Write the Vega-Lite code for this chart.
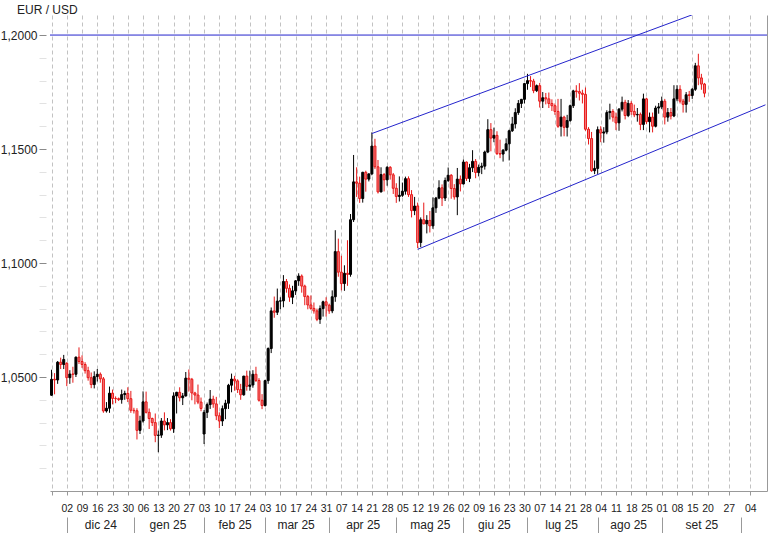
{
  "$schema": "https://vega.github.io/schema/vega-lite/v6.json",
  "width": 717,
  "height": 476,
  "autosize": {"type": "none"},
  "padding": {"left": 50, "top": 15, "right": 11, "bottom": 42},
  "background": "white",
  "config": {"view": {"stroke": null}, "font": "Liberation Sans"},
  "title": {"text": "EUR / USD", "anchor": "start", "frame": "group", "dx": -33, "dy": 5, "offset": 3, "fontSize": 12, "fontWeight": "normal", "color": "#222222"},
  "datasets": {
    "candles": [
      {"d":"2024-11-25","o":1.0420,"h":1.0532,"l":1.0418,"c":1.0490},
      {"d":"2024-11-26","o":1.0490,"h":1.0517,"l":1.0424,"c":1.0487},
      {"d":"2024-11-27","o":1.0487,"h":1.0570,"l":1.0470,"c":1.0565},
      {"d":"2024-11-28","o":1.0565,"h":1.0585,"l":1.0535,"c":1.0555},
      {"d":"2024-11-29","o":1.0555,"h":1.0597,"l":1.0535,"c":1.0577},
      {"d":"2024-12-02","o":1.0560,"h":1.0565,"l":1.0460,"c":1.0497},
      {"d":"2024-12-03","o":1.0497,"h":1.0530,"l":1.0470,"c":1.0513},
      {"d":"2024-12-04","o":1.0513,"h":1.0545,"l":1.0475,"c":1.0512},
      {"d":"2024-12-05","o":1.0512,"h":1.0590,"l":1.0500,"c":1.0587},
      {"d":"2024-12-06","o":1.0587,"h":1.0630,"l":1.0557,"c":1.0568},
      {"d":"2024-12-09","o":1.0568,"h":1.0595,"l":1.0540,"c":1.0555},
      {"d":"2024-12-10","o":1.0555,"h":1.0565,"l":1.0515,"c":1.0528},
      {"d":"2024-12-11","o":1.0528,"h":1.0545,"l":1.0484,"c":1.0497},
      {"d":"2024-12-12","o":1.0497,"h":1.0520,"l":1.0451,"c":1.0467},
      {"d":"2024-12-13","o":1.0467,"h":1.0525,"l":1.0450,"c":1.0502},
      {"d":"2024-12-16","o":1.0502,"h":1.0535,"l":1.0480,"c":1.0512},
      {"d":"2024-12-17","o":1.0512,"h":1.0520,"l":1.0475,"c":1.0492},
      {"d":"2024-12-18","o":1.0492,"h":1.0500,"l":1.0343,"c":1.0351},
      {"d":"2024-12-19","o":1.0351,"h":1.0390,"l":1.0344,"c":1.0363},
      {"d":"2024-12-20","o":1.0363,"h":1.0458,"l":1.0343,"c":1.0429},
      {"d":"2024-12-23","o":1.0429,"h":1.0445,"l":1.0380,"c":1.0406},
      {"d":"2024-12-24","o":1.0406,"h":1.0415,"l":1.0385,"c":1.0405},
      {"d":"2024-12-25","o":1.0405,"h":1.0410,"l":1.0395,"c":1.0401},
      {"d":"2024-12-26","o":1.0401,"h":1.0445,"l":1.0383,"c":1.0423},
      {"d":"2024-12-27","o":1.0423,"h":1.0440,"l":1.0400,"c":1.0428},
      {"d":"2024-12-30","o":1.0428,"h":1.0455,"l":1.0390,"c":1.0405},
      {"d":"2024-12-31","o":1.0405,"h":1.0439,"l":1.0343,"c":1.0354},
      {"d":"2025-01-01","o":1.0354,"h":1.0365,"l":1.0340,"c":1.0352},
      {"d":"2025-01-02","o":1.0352,"h":1.0363,"l":1.0226,"c":1.0266},
      {"d":"2025-01-03","o":1.0266,"h":1.0330,"l":1.0250,"c":1.0307},
      {"d":"2025-01-06","o":1.0307,"h":1.0437,"l":1.0300,"c":1.0391},
      {"d":"2025-01-07","o":1.0391,"h":1.0436,"l":1.0340,"c":1.0345},
      {"d":"2025-01-08","o":1.0345,"h":1.0362,"l":1.0272,"c":1.0318},
      {"d":"2025-01-09","o":1.0318,"h":1.0322,"l":1.0285,"c":1.0300},
      {"d":"2025-01-10","o":1.0300,"h":1.0340,"l":1.0214,"c":1.0244},
      {"d":"2025-01-13","o":1.0244,"h":1.0265,"l":1.0170,"c":1.0245},
      {"d":"2025-01-14","o":1.0245,"h":1.0320,"l":1.0233,"c":1.0307},
      {"d":"2025-01-15","o":1.0307,"h":1.0345,"l":1.0266,"c":1.0290},
      {"d":"2025-01-16","o":1.0290,"h":1.0320,"l":1.0267,"c":1.0300},
      {"d":"2025-01-17","o":1.0300,"h":1.0315,"l":1.0265,"c":1.0273},
      {"d":"2025-01-20","o":1.0273,"h":1.0433,"l":1.0255,"c":1.0417},
      {"d":"2025-01-21","o":1.0417,"h":1.0435,"l":1.0340,"c":1.0433},
      {"d":"2025-01-22","o":1.0433,"h":1.0455,"l":1.0393,"c":1.0409},
      {"d":"2025-01-23","o":1.0409,"h":1.0430,"l":1.0377,"c":1.0417},
      {"d":"2025-01-24","o":1.0417,"h":1.0522,"l":1.0414,"c":1.0495},
      {"d":"2025-01-27","o":1.0495,"h":1.0533,"l":1.0436,"c":1.0490},
      {"d":"2025-01-28","o":1.0490,"h":1.0496,"l":1.0398,"c":1.0430},
      {"d":"2025-01-29","o":1.0430,"h":1.0435,"l":1.0380,"c":1.0421},
      {"d":"2025-01-30","o":1.0421,"h":1.0467,"l":1.0381,"c":1.0390},
      {"d":"2025-01-31","o":1.0390,"h":1.0410,"l":1.0350,"c":1.0362},
      {"d":"2025-02-03","o":1.0250,"h":1.0355,"l":1.0206,"c":1.0345},
      {"d":"2025-02-04","o":1.0345,"h":1.0388,"l":1.0320,"c":1.0379},
      {"d":"2025-02-05","o":1.0379,"h":1.0443,"l":1.0360,"c":1.0403},
      {"d":"2025-02-06","o":1.0403,"h":1.0418,"l":1.0365,"c":1.0382},
      {"d":"2025-02-07","o":1.0382,"h":1.0413,"l":1.0311,"c":1.0330},
      {"d":"2025-02-10","o":1.0330,"h":1.0345,"l":1.0276,"c":1.0307},
      {"d":"2025-02-11","o":1.0307,"h":1.0375,"l":1.0285,"c":1.0361},
      {"d":"2025-02-12","o":1.0361,"h":1.0400,"l":1.0315,"c":1.0385},
      {"d":"2025-02-13","o":1.0385,"h":1.0470,"l":1.0360,"c":1.0464},
      {"d":"2025-02-14","o":1.0464,"h":1.0515,"l":1.0433,"c":1.0491},
      {"d":"2025-02-17","o":1.0491,"h":1.0505,"l":1.0440,"c":1.0483},
      {"d":"2025-02-18","o":1.0483,"h":1.0490,"l":1.0430,"c":1.0445},
      {"d":"2025-02-19","o":1.0445,"h":1.0470,"l":1.0400,"c":1.0422},
      {"d":"2025-02-20","o":1.0422,"h":1.0505,"l":1.0418,"c":1.0504},
      {"d":"2025-02-21","o":1.0504,"h":1.0528,"l":1.0440,"c":1.0459},
      {"d":"2025-02-24","o":1.0459,"h":1.0528,"l":1.0440,"c":1.0465},
      {"d":"2025-02-25","o":1.0465,"h":1.0530,"l":1.0453,"c":1.0512},
      {"d":"2025-02-26","o":1.0512,"h":1.0545,"l":1.0478,"c":1.0485},
      {"d":"2025-02-27","o":1.0485,"h":1.0495,"l":1.0392,"c":1.0398},
      {"d":"2025-02-28","o":1.0398,"h":1.0425,"l":1.0359,"c":1.0375},
      {"d":"2025-03-03","o":1.0375,"h":1.0488,"l":1.0370,"c":1.0484},
      {"d":"2025-03-04","o":1.0484,"h":1.0630,"l":1.0470,"c":1.0625},
      {"d":"2025-03-05","o":1.0625,"h":1.0805,"l":1.0605,"c":1.0790},
      {"d":"2025-03-06","o":1.0790,"h":1.0853,"l":1.0760,"c":1.0784},
      {"d":"2025-03-07","o":1.0784,"h":1.0888,"l":1.0772,"c":1.0833},
      {"d":"2025-03-10","o":1.0833,"h":1.0850,"l":1.0797,"c":1.0834},
      {"d":"2025-03-11","o":1.0834,"h":1.0947,"l":1.0806,"c":1.0919},
      {"d":"2025-03-12","o":1.0919,"h":1.0930,"l":1.0870,"c":1.0889},
      {"d":"2025-03-13","o":1.0889,"h":1.0906,"l":1.0830,"c":1.0850},
      {"d":"2025-03-14","o":1.0850,"h":1.0900,"l":1.0820,"c":1.0878},
      {"d":"2025-03-17","o":1.0878,"h":1.0925,"l":1.0860,"c":1.0922},
      {"d":"2025-03-18","o":1.0922,"h":1.0955,"l":1.0900,"c":1.0943},
      {"d":"2025-03-19","o":1.0943,"h":1.0950,"l":1.0870,"c":1.0899},
      {"d":"2025-03-20","o":1.0899,"h":1.0905,"l":1.0815,"c":1.0853},
      {"d":"2025-03-21","o":1.0853,"h":1.0860,"l":1.0797,"c":1.0816},
      {"d":"2025-03-24","o":1.0816,"h":1.0858,"l":1.0795,"c":1.0801},
      {"d":"2025-03-25","o":1.0801,"h":1.0827,"l":1.0778,"c":1.0790},
      {"d":"2025-03-26","o":1.0790,"h":1.0800,"l":1.0745,"c":1.0753},
      {"d":"2025-03-27","o":1.0753,"h":1.0814,"l":1.0733,"c":1.0800},
      {"d":"2025-03-28","o":1.0800,"h":1.0835,"l":1.0765,"c":1.0830},
      {"d":"2025-03-31","o":1.0830,"h":1.0850,"l":1.0765,"c":1.0815},
      {"d":"2025-04-01","o":1.0815,"h":1.0822,"l":1.0777,"c":1.0790},
      {"d":"2025-04-02","o":1.0790,"h":1.0880,"l":1.0780,"c":1.0852},
      {"d":"2025-04-03","o":1.0852,"h":1.1144,"l":1.0830,"c":1.1050},
      {"d":"2025-04-04","o":1.1050,"h":1.1107,"l":1.0940,"c":1.0960},
      {"d":"2025-04-07","o":1.0960,"h":1.1032,"l":1.0880,"c":1.0910},
      {"d":"2025-04-08","o":1.0910,"h":1.0990,"l":1.0878,"c":1.0955},
      {"d":"2025-04-09","o":1.0955,"h":1.1100,"l":1.0900,"c":1.0950},
      {"d":"2025-04-10","o":1.0950,"h":1.1215,"l":1.0940,"c":1.1190},
      {"d":"2025-04-11","o":1.1190,"h":1.1474,"l":1.1180,"c":1.1356},
      {"d":"2025-04-14","o":1.1356,"h":1.1420,"l":1.1290,"c":1.1350},
      {"d":"2025-04-15","o":1.1350,"h":1.1379,"l":1.1264,"c":1.1283},
      {"d":"2025-04-16","o":1.1283,"h":1.1400,"l":1.1265,"c":1.1398},
      {"d":"2025-04-17","o":1.1398,"h":1.1405,"l":1.1313,"c":1.1368},
      {"d":"2025-04-18","o":1.1368,"h":1.1393,"l":1.1358,"c":1.1391},
      {"d":"2025-04-21","o":1.1391,"h":1.1573,"l":1.1385,"c":1.1513},
      {"d":"2025-04-22","o":1.1513,"h":1.1545,"l":1.1412,"c":1.1422},
      {"d":"2025-04-23","o":1.1422,"h":1.1452,"l":1.1305,"c":1.1312},
      {"d":"2025-04-24","o":1.1312,"h":1.1420,"l":1.1310,"c":1.1388},
      {"d":"2025-04-25","o":1.1388,"h":1.1395,"l":1.1314,"c":1.1365},
      {"d":"2025-04-28","o":1.1365,"h":1.1425,"l":1.1339,"c":1.1420},
      {"d":"2025-04-29","o":1.1420,"h":1.1425,"l":1.1366,"c":1.1387},
      {"d":"2025-04-30","o":1.1387,"h":1.1395,"l":1.1303,"c":1.1328},
      {"d":"2025-05-01","o":1.1328,"h":1.1350,"l":1.1264,"c":1.1292},
      {"d":"2025-05-02","o":1.1292,"h":1.1380,"l":1.1270,"c":1.1297},
      {"d":"2025-05-05","o":1.1297,"h":1.1353,"l":1.1290,"c":1.1315},
      {"d":"2025-05-06","o":1.1315,"h":1.1379,"l":1.1300,"c":1.1370},
      {"d":"2025-05-07","o":1.1370,"h":1.1380,"l":1.1290,"c":1.1300},
      {"d":"2025-05-08","o":1.1300,"h":1.1320,"l":1.1200,"c":1.1230},
      {"d":"2025-05-09","o":1.1230,"h":1.1290,"l":1.1210,"c":1.1250},
      {"d":"2025-05-12","o":1.1250,"h":1.1265,"l":1.1065,"c":1.1090},
      {"d":"2025-05-13","o":1.1090,"h":1.1200,"l":1.1070,"c":1.1190},
      {"d":"2025-05-14","o":1.1190,"h":1.1265,"l":1.1170,"c":1.1172},
      {"d":"2025-05-15","o":1.1172,"h":1.1210,"l":1.1130,"c":1.1187},
      {"d":"2025-05-16","o":1.1187,"h":1.1228,"l":1.1134,"c":1.1163},
      {"d":"2025-05-19","o":1.1163,"h":1.1288,"l":1.1150,"c":1.1242},
      {"d":"2025-05-20","o":1.1242,"h":1.1290,"l":1.1220,"c":1.1285},
      {"d":"2025-05-21","o":1.1285,"h":1.1363,"l":1.1280,"c":1.1330},
      {"d":"2025-05-22","o":1.1330,"h":1.1345,"l":1.1250,"c":1.1285},
      {"d":"2025-05-23","o":1.1285,"h":1.1375,"l":1.1272,"c":1.1362},
      {"d":"2025-05-26","o":1.1362,"h":1.1419,"l":1.1355,"c":1.1385},
      {"d":"2025-05-27","o":1.1385,"h":1.1390,"l":1.1282,"c":1.1327},
      {"d":"2025-05-28","o":1.1327,"h":1.1346,"l":1.1278,"c":1.1290},
      {"d":"2025-05-29","o":1.1290,"h":1.1417,"l":1.1210,"c":1.1368},
      {"d":"2025-05-30","o":1.1368,"h":1.1384,"l":1.1314,"c":1.1347},
      {"d":"2025-06-02","o":1.1347,"h":1.1454,"l":1.1345,"c":1.1443},
      {"d":"2025-06-03","o":1.1443,"h":1.1445,"l":1.1360,"c":1.1371},
      {"d":"2025-06-04","o":1.1371,"h":1.1435,"l":1.1355,"c":1.1418},
      {"d":"2025-06-05","o":1.1418,"h":1.1495,"l":1.1399,"c":1.1446},
      {"d":"2025-06-06","o":1.1446,"h":1.1456,"l":1.1372,"c":1.1397},
      {"d":"2025-06-09","o":1.1397,"h":1.1432,"l":1.1380,"c":1.1420},
      {"d":"2025-06-10","o":1.1420,"h":1.1440,"l":1.1390,"c":1.1425},
      {"d":"2025-06-11","o":1.1425,"h":1.1493,"l":1.1410,"c":1.1487},
      {"d":"2025-06-12","o":1.1487,"h":1.1631,"l":1.1482,"c":1.1585},
      {"d":"2025-06-13","o":1.1585,"h":1.1614,"l":1.1490,"c":1.1548},
      {"d":"2025-06-16","o":1.1548,"h":1.1594,"l":1.1530,"c":1.1560},
      {"d":"2025-06-17","o":1.1560,"h":1.1578,"l":1.1474,"c":1.1480},
      {"d":"2025-06-18","o":1.1480,"h":1.1541,"l":1.1460,"c":1.1478},
      {"d":"2025-06-19","o":1.1478,"h":1.1500,"l":1.1445,"c":1.1495},
      {"d":"2025-06-20","o":1.1495,"h":1.1547,"l":1.1490,"c":1.1523},
      {"d":"2025-06-23","o":1.1523,"h":1.1585,"l":1.1450,"c":1.1580},
      {"d":"2025-06-24","o":1.1580,"h":1.1641,"l":1.1575,"c":1.1610},
      {"d":"2025-06-25","o":1.1610,"h":1.1679,"l":1.1590,"c":1.1660},
      {"d":"2025-06-26","o":1.1660,"h":1.1715,"l":1.1650,"c":1.1700},
      {"d":"2025-06-27","o":1.1700,"h":1.1720,"l":1.1680,"c":1.1718},
      {"d":"2025-06-30","o":1.1718,"h":1.1790,"l":1.1700,"c":1.1787},
      {"d":"2025-07-01","o":1.1787,"h":1.1830,"l":1.1760,"c":1.1800},
      {"d":"2025-07-02","o":1.1800,"h":1.1820,"l":1.1772,"c":1.1798},
      {"d":"2025-07-03","o":1.1798,"h":1.1808,"l":1.1745,"c":1.1756},
      {"d":"2025-07-04","o":1.1756,"h":1.1783,"l":1.1750,"c":1.1778},
      {"d":"2025-07-07","o":1.1778,"h":1.1790,"l":1.1682,"c":1.1710},
      {"d":"2025-07-08","o":1.1710,"h":1.1750,"l":1.1680,"c":1.1725},
      {"d":"2025-07-09","o":1.1725,"h":1.1746,"l":1.1696,"c":1.1720},
      {"d":"2025-07-10","o":1.1720,"h":1.1748,"l":1.1680,"c":1.1700},
      {"d":"2025-07-11","o":1.1700,"h":1.1718,"l":1.1667,"c":1.1690},
      {"d":"2025-07-14","o":1.1690,"h":1.1700,"l":1.1650,"c":1.1665},
      {"d":"2025-07-15","o":1.1665,"h":1.1720,"l":1.1593,"c":1.1600},
      {"d":"2025-07-16","o":1.1600,"h":1.1720,"l":1.1555,"c":1.1640},
      {"d":"2025-07-17","o":1.1640,"h":1.1646,"l":1.1556,"c":1.1595},
      {"d":"2025-07-18","o":1.1595,"h":1.1650,"l":1.1555,"c":1.1625},
      {"d":"2025-07-21","o":1.1625,"h":1.1695,"l":1.1620,"c":1.1690},
      {"d":"2025-07-22","o":1.1690,"h":1.1760,"l":1.1680,"c":1.1755},
      {"d":"2025-07-23","o":1.1755,"h":1.1780,"l":1.1725,"c":1.1752},
      {"d":"2025-07-24","o":1.1752,"h":1.1789,"l":1.1713,"c":1.1745},
      {"d":"2025-07-25","o":1.1745,"h":1.1760,"l":1.1700,"c":1.1740},
      {"d":"2025-07-28","o":1.1740,"h":1.1770,"l":1.1580,"c":1.1587},
      {"d":"2025-07-29","o":1.1587,"h":1.1596,"l":1.1520,"c":1.1546},
      {"d":"2025-07-30","o":1.1546,"h":1.1575,"l":1.1400,"c":1.1405},
      {"d":"2025-07-31","o":1.1405,"h":1.1450,"l":1.1390,"c":1.1415},
      {"d":"2025-08-01","o":1.1415,"h":1.1599,"l":1.1391,"c":1.1585},
      {"d":"2025-08-04","o":1.1585,"h":1.1600,"l":1.1530,"c":1.1570},
      {"d":"2025-08-05","o":1.1570,"h":1.1596,"l":1.1528,"c":1.1575},
      {"d":"2025-08-06","o":1.1575,"h":1.1670,"l":1.1565,"c":1.1660},
      {"d":"2025-08-07","o":1.1660,"h":1.1699,"l":1.1630,"c":1.1665},
      {"d":"2025-08-08","o":1.1665,"h":1.1675,"l":1.1620,"c":1.1640},
      {"d":"2025-08-11","o":1.1640,"h":1.1660,"l":1.1583,"c":1.1615},
      {"d":"2025-08-12","o":1.1615,"h":1.1680,"l":1.1580,"c":1.1675},
      {"d":"2025-08-13","o":1.1675,"h":1.1730,"l":1.1665,"c":1.1705},
      {"d":"2025-08-14","o":1.1705,"h":1.1716,"l":1.1630,"c":1.1647},
      {"d":"2025-08-15","o":1.1647,"h":1.1715,"l":1.1640,"c":1.1700},
      {"d":"2025-08-18","o":1.1700,"h":1.1710,"l":1.1650,"c":1.1665},
      {"d":"2025-08-19","o":1.1665,"h":1.1695,"l":1.1640,"c":1.1650},
      {"d":"2025-08-20","o":1.1650,"h":1.1680,"l":1.1620,"c":1.1652},
      {"d":"2025-08-21","o":1.1652,"h":1.1660,"l":1.1583,"c":1.1608},
      {"d":"2025-08-22","o":1.1608,"h":1.1743,"l":1.1583,"c":1.1720},
      {"d":"2025-08-25","o":1.1720,"h":1.1725,"l":1.1610,"c":1.1620},
      {"d":"2025-08-26","o":1.1620,"h":1.1660,"l":1.1573,"c":1.1640},
      {"d":"2025-08-27","o":1.1640,"h":1.1660,"l":1.1573,"c":1.1600},
      {"d":"2025-08-28","o":1.1600,"h":1.1690,"l":1.1595,"c":1.1680},
      {"d":"2025-08-29","o":1.1680,"h":1.1702,"l":1.1655,"c":1.1685},
      {"d":"2025-09-01","o":1.1685,"h":1.1730,"l":1.1675,"c":1.1710},
      {"d":"2025-09-02","o":1.1710,"h":1.1720,"l":1.1608,"c":1.1640},
      {"d":"2025-09-03","o":1.1640,"h":1.1680,"l":1.1620,"c":1.1660},
      {"d":"2025-09-04","o":1.1660,"h":1.1680,"l":1.1630,"c":1.1645},
      {"d":"2025-09-05","o":1.1645,"h":1.1780,"l":1.1640,"c":1.1720},
      {"d":"2025-09-08","o":1.1720,"h":1.1780,"l":1.1710,"c":1.1762},
      {"d":"2025-09-09","o":1.1762,"h":1.1780,"l":1.1700,"c":1.1710},
      {"d":"2025-09-10","o":1.1710,"h":1.1720,"l":1.1660,"c":1.1696},
      {"d":"2025-09-11","o":1.1696,"h":1.1750,"l":1.1660,"c":1.1738},
      {"d":"2025-09-12","o":1.1738,"h":1.1755,"l":1.1707,"c":1.1735},
      {"d":"2025-09-15","o":1.1735,"h":1.1768,"l":1.1720,"c":1.1762},
      {"d":"2025-09-16","o":1.1762,"h":1.1878,"l":1.1755,"c":1.1865},
      {"d":"2025-09-17","o":1.1865,"h":1.1918,"l":1.1780,"c":1.1812},
      {"d":"2025-09-18","o":1.1812,"h":1.1830,"l":1.1760,"c":1.1785},
      {"d":"2025-09-19","o":1.1785,"h":1.1790,"l":1.1727,"c":1.1745}
    ],
    "channel": [
      {"line":"upper","d":"2025-04-21","v":1.1568},
      {"line":"upper","d":"2025-09-15","v":1.2089},
      {"line":"lower","d":"2025-05-12","v":1.1060},
      {"line":"lower","d":"2025-10-09","v":1.1694}
    ],
    "levels": [{"level": 1.2}]
  },
  "layer": [
    {
      "data": {"name": "candles"},
      "mark": {"type": "rule", "strokeWidth": 1},
      "encoding": {
        "x": {
          "field": "d", "type": "ordinal",
          "scale": {"type": "point", "padding": 0.5, "domain": {"unionWith": ["2025-09-20","2025-09-21","2025-09-22","2025-09-23","2025-09-24","2025-09-25","2025-09-26","2025-09-27","2025-09-28","2025-09-29","2025-09-30","2025-10-01","2025-10-02","2025-10-03","2025-10-04","2025-10-05","2025-10-06","2025-10-07","2025-10-08","2025-10-09"]}},
          "axis": {
            "orient": "bottom", "title": null,
            "values": ["2024-11-25","2024-12-02","2024-12-09","2024-12-16","2024-12-23","2024-12-30","2025-01-06","2025-01-13","2025-01-20","2025-01-27","2025-02-03","2025-02-10","2025-02-17","2025-02-24","2025-03-03","2025-03-10","2025-03-17","2025-03-24","2025-03-31","2025-04-07","2025-04-14","2025-04-21","2025-04-28","2025-05-05","2025-05-12","2025-05-19","2025-05-26","2025-06-02","2025-06-09","2025-06-16","2025-06-23","2025-06-30","2025-07-07","2025-07-14","2025-07-21","2025-07-28","2025-08-04","2025-08-11","2025-08-18","2025-08-25","2025-09-01","2025-09-08","2025-09-15","2025-09-20","2025-09-27","2025-10-04"],
            "labelExpr": "datum.value == '2024-11-25' ? '' : substring(datum.value, 8, 10)",
            "grid": true, "gridColor": "#c2c2c2", "gridDash": [4, 3], "gridWidth": 1,
            "domain": true, "domainColor": "#999999", "domainWidth": 1,
            "ticks": true, "tickColor": "#999999", "tickSize": 4,
            "labelFontSize": 10.5, "labelColor": "#222222", "labelPadding": 8, "labelAngle": 0,
            "labelOverlap": false, "labelBound": false, "labelFlush": false
          }
        },
        "y": {
          "field": "l", "type": "quantitative",
          "scale": {"domain": [1.0, 1.2088], "zero": false, "nice": false},
          "axis": {
            "orient": "left", "title": null, "offset": 4,
            "values": [1.01,1.02,1.03,1.04,1.05,1.06,1.07,1.08,1.09,1.1,1.11,1.12,1.13,1.14,1.15,1.16,1.17,1.18,1.19,1.2],
            "labelExpr": "round(datum.value * 100) % 5 == 0 ? replace(format(datum.value, '.4f'), '.', ',') : ''",
            "domain": false, "grid": false,
            "ticks": true, "tickSize": 7,
            "tickColor": {"condition": {"test": "round(datum.value * 100) % 5 == 0", "value": "#8a8a8a"}, "value": "#e2e2e2"},
            "labelFontSize": 12, "labelColor": "#222222", "labelPadding": 2
          }
        },
        "y2": {"field": "h"},
        "color": {"condition": {"test": "datum.c < datum.o", "value": "#e81818"}, "value": "#000000"}
      }
    },
    {
      "data": {"name": "candles"},
      "mark": {"type": "bar", "width": 2, "strokeWidth": 1},
      "encoding": {
        "x": {
          "field": "d", "type": "ordinal",
          "axis": {
            "orient": "bottom", "title": null, "offset": 26,
            "values": ["2024-12-02","2025-01-01","2025-02-03","2025-03-03","2025-04-01","2025-05-01","2025-06-02","2025-07-01","2025-08-01","2025-09-01","2025-10-01"],
            "labels": false, "grid": false, "domain": false,
            "ticks": true, "tickColor": "#999999", "tickSize": 17
          }
        },
        "y": {
          "field": "o", "type": "quantitative",
          "axis": {"orient": "right", "title": null, "domain": true, "domainColor": "#999999", "ticks": false, "labels": false, "grid": false}
        },
        "y2": {"field": "c"},
        "fill": {"condition": {"test": "datum.c < datum.o", "value": "#f27a7a"}, "value": "#000000"},
        "stroke": {"condition": {"test": "datum.c < datum.o", "value": "#e81818"}, "value": "#000000"}
      }
    },
    {
      "data": {"name": "levels"},
      "mark": {"type": "rule", "color": "#2424cc", "strokeWidth": 1},
      "encoding": {
        "y": {"field": "level", "type": "quantitative", "axis": null}
      }
    },
    {
      "data": {"name": "channel"},
      "mark": {"type": "line", "color": "#2424cc", "strokeWidth": 1, "clip": true},
      "encoding": {
        "x": {
          "field": "d", "type": "ordinal",
          "axis": {
            "orient": "bottom", "title": null, "offset": 26,
            "values": ["2024-12-17","2025-01-16","2025-02-17","2025-03-17","2025-04-16","2025-05-16","2025-06-16","2025-07-16","2025-08-15","2025-09-18"],
            "labelExpr": "['gen','feb','mar','apr','mag','giu','lug','ago','set','ott','nov','dic'][toNumber(substring(datum.value, 5, 7)) - 1] + ' ' + substring(datum.value, 2, 4)",
            "grid": false, "domain": false, "ticks": false, "tickSize": 0,
            "labelFontSize": 12, "labelColor": "#222222", "labelPadding": 2, "labelAngle": 0,
            "labelOverlap": false, "labelBound": false, "labelFlush": false
          }
        },
        "y": {"field": "v", "type": "quantitative", "axis": null},
        "detail": {"field": "line"}
      }
    }
  ],
  "resolve": {"axis": {"x": "independent", "y": "independent"}}
}
